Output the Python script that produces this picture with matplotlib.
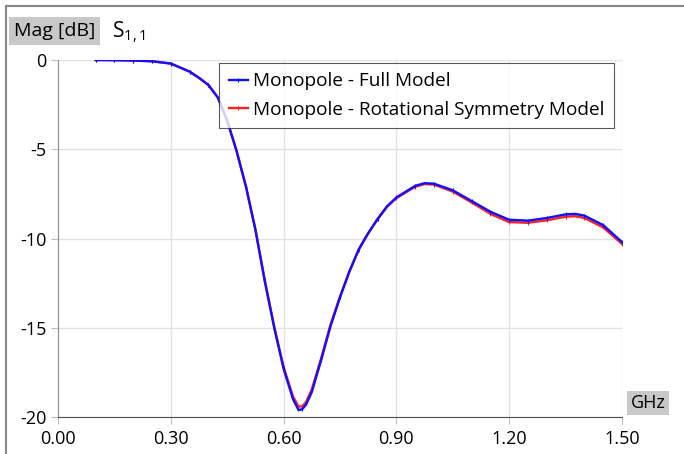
import matplotlib
matplotlib.use("Agg")
import matplotlib.pyplot as plt
from matplotlib.lines import Line2D

plt.rcParams['font.family'] = ['Open Sans', 'DejaVu Sans']

freq_ghz = [0.10, 0.15, 0.20, 0.25, 0.30, 0.35, 0.375, 0.40, 0.425, 0.45, 0.475,
            0.50, 0.525, 0.55, 0.575, 0.60, 0.625, 0.64, 0.65, 0.66, 0.675,
            0.70, 0.725, 0.75, 0.775, 0.80, 0.825, 0.85, 0.875, 0.90, 0.95,
            0.975, 1.00, 1.05, 1.10, 1.15, 1.20, 1.25, 1.30, 1.35, 1.375, 1.40, 1.45, 1.50]

full_model_db = [0.00, -0.01, -0.03, -0.07, -0.20, -0.65, -1.00, -1.40, -2.10, -3.40, -5.10,
                 -7.10, -9.50, -12.40, -15.00, -17.30, -19.00, -19.62, -19.55, -19.30, -18.60,
                 -16.80, -14.90, -13.30, -11.85, -10.60, -9.70, -8.90, -8.20, -7.70, -7.05,
                 -6.90, -6.93, -7.30, -7.90, -8.50, -8.95, -9.00, -8.85, -8.65, -8.62, -8.72, -9.25, -10.20]

rot_sym_db = [0.00, -0.01, -0.03, -0.07, -0.20, -0.65, -1.00, -1.40, -2.10, -3.40, -5.10,
              -7.10, -9.50, -12.35, -14.92, -17.20, -18.85, -19.42, -19.40, -19.15, -18.45,
              -16.70, -14.80, -13.25, -11.85, -10.62, -9.72, -8.93, -8.23, -7.74, -7.10,
              -6.95, -6.98, -7.37, -7.98, -8.62, -9.08, -9.12, -8.98, -8.78, -8.75, -8.85, -9.38, -10.30]

x_ticks = [0.00, 0.30, 0.60, 0.90, 1.20, 1.50]
x_tick_labels = ['0.00', '0.30', '0.60', '0.90', '1.20', '1.50']
y_ticks = [0, -5, -10, -15, -20]
y_tick_labels = ['0', '-5', '-10', '-15', '-20']

marker_idx = [i for i, f in enumerate(freq_ghz) if abs(round(f / 0.05) * 0.05 - f) < 1e-6]

fig = plt.figure(figsize=(6.84, 4.54), dpi=100)
ax = fig.add_axes([58/684, 1-417/454, (622-58)/684, (417-60)/454])

style = dict(lw=1.7, marker='|', ms=3, mew=0.8, markevery=marker_idx)
ax.plot(freq_ghz, rot_sym_db, color='#ff2020', zorder=3, **style)
ax.plot(freq_ghz, full_model_db, color='#1010ff', zorder=4, **style)

ax.set_xlim(0, 1.5)
ax.set_ylim(-20, 0)
ax.set_xticks(x_ticks)
ax.set_xticklabels(x_tick_labels)
ax.set_yticks(y_ticks)
ax.set_yticklabels(y_tick_labels)
ax.grid(True, color='#e2e2e2', lw=1)
ax.set_axisbelow(True)
for s in ['top', 'right']:
    ax.spines[s].set_visible(False)
ax.spines['left'].set_color('#909090')
ax.spines['bottom'].set_color('#505050')
ax.tick_params(axis='both', labelsize=13, colors='#c0c0c0', labelcolor='black', length=5, direction='out')
ax.tick_params(axis='x', pad=4)

handles = [Line2D([], [], color='#1010ff', lw=1.7, marker='|', ms=3, mew=0.8),
           Line2D([], [], color='#ff2020', lw=1.7, marker='|', ms=3, mew=0.8)]
leg = ax.legend(handles, ['Monopole - Full Model', 'Monopole - Rotational Symmetry Model'],
                loc='upper left', bbox_to_anchor=(0.2855, 0.992), fontsize=13.7,
                frameon=True, fancybox=False, shadow=False, handlelength=1.0,
                handletextpad=0.3, borderpad=0.5, labelspacing=0.55, borderaxespad=0)
leg.get_frame().set_edgecolor('#303030')
leg.get_frame().set_linewidth(0.8)

fig.text(14/684, 1-31/454, 'Mag [dB]', fontsize=14, va='center', ha='left',
         bbox=dict(boxstyle='square,pad=0.25', fc='#c8c8c8', ec='none'))
fig.text(112/684, 1-32/454, r'S$_{\mathregular{1,1}}$', fontsize=15, va='center', ha='left')
fig.text(648/684, 1-403/454, 'GHz', fontsize=13, va='center', ha='center',
         bbox=dict(boxstyle='square,pad=0.18', fc='#c8c8c8', ec='none'))

fig.add_artist(Line2D([6/684, 6/684], [0, 1-6/454], transform=fig.transFigure, color='#888888', lw=1.5))
fig.add_artist(Line2D([6/684, 1], [1-6/454, 1-6/454], transform=fig.transFigure, color='#888888', lw=1.5))

fig.savefig('out.png', dpi=100)
